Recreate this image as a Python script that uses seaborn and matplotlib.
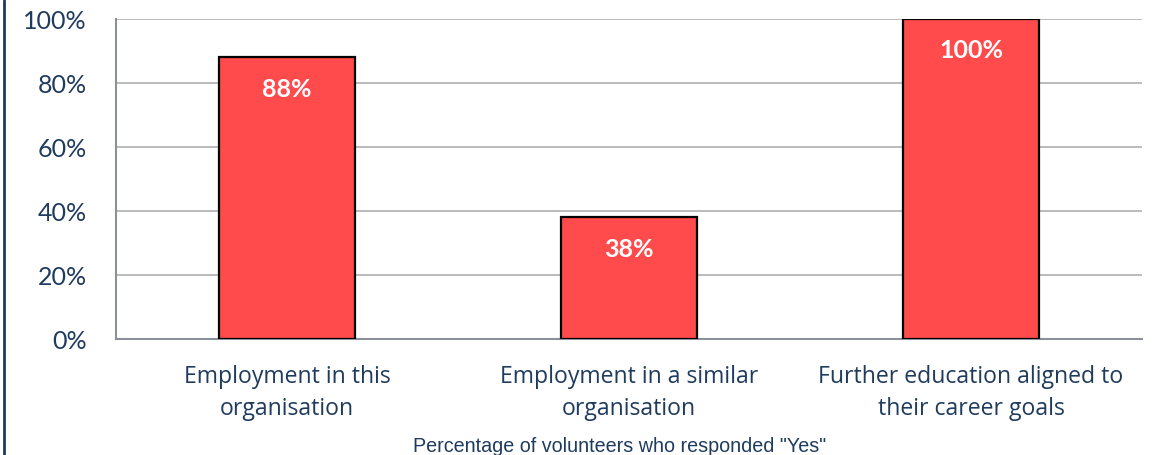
import matplotlib
matplotlib.use("Agg")
import matplotlib.pyplot as plt
from matplotlib.lines import Line2D
from matplotlib.ticker import PercentFormatter
import seaborn as sns
import pandas as pd

categories = [
    "Employment in this\norganisation",
    "Employment in a similar\norganisation",
    "Further education aligned to\ntheir career goals",
]
yes_share = [88, 38, 100]
value_labels = ["88%", "38%", "100%"]
y_ticks = [0, 20, 40, 60, 80, 100]
x_title = 'Percentage of volunteers who responded "Yes"'

navy = "#1F3B5E"
bar_red = "#FF4B4B"

sns.set_theme(style="white")
plt.rcParams["font.family"] = ["Lato", "DejaVu Sans"]

df = pd.DataFrame({"category": categories, "share": yes_share})

fig = plt.figure(figsize=(11.53, 4.55), dpi=100)
ax = fig.add_axes([0.1006, 0.2549, 0.8899, 0.7033])

sns.barplot(data=df, x="category", y="share", ax=ax, color=bar_red,
            saturation=1, width=0.40, edgecolor="black", linewidth=1.6,
            zorder=3)

ax.set_ylim(0, 100)
ax.set_xlim(-0.5, 2.5)
ax.set_yticks(y_ticks)
ax.yaxis.set_major_formatter(PercentFormatter(decimals=0))
ax.grid(axis="y", color="#B5B5B5", linewidth=1.3, zorder=0)
ax.set_axisbelow(True)

for side in ["top", "right"]:
    ax.spines[side].set_visible(False)
for side in ["left", "bottom"]:
    ax.spines[side].set_color("#8C909A")
    ax.spines[side].set_linewidth(1.5)

ax.tick_params(axis="y", length=0, pad=21, labelsize=18, labelcolor=navy)
ax.tick_params(axis="x", length=0, pad=19, labelsize=16.6, labelcolor=navy)
for lbl in ax.get_xticklabels():
    lbl.set_linespacing(1.4)
    lbl.set_family(["Open Sans", "DejaVu Sans"])

ax.set_xlabel("")
ax.set_ylabel("")

for i, (v, t) in enumerate(zip(yes_share, value_labels)):
    ax.annotate(t, (i, v), xytext=(0, -23), textcoords="offset points",
                ha="center", va="center", color="white", fontsize=18,
                fontweight="bold", zorder=4)

fig.text(620 / 1153, 1 - 446 / 455, x_title, ha="center", va="center",
         color=navy, fontsize=14.2, family=["Liberation Sans", "DejaVu Sans"])

fig.add_artist(Line2D([4 / 1153, 4 / 1153], [0, 1], color="#1F3864",
                      linewidth=2, transform=fig.transFigure))

fig.savefig("out.png", dpi=100)
